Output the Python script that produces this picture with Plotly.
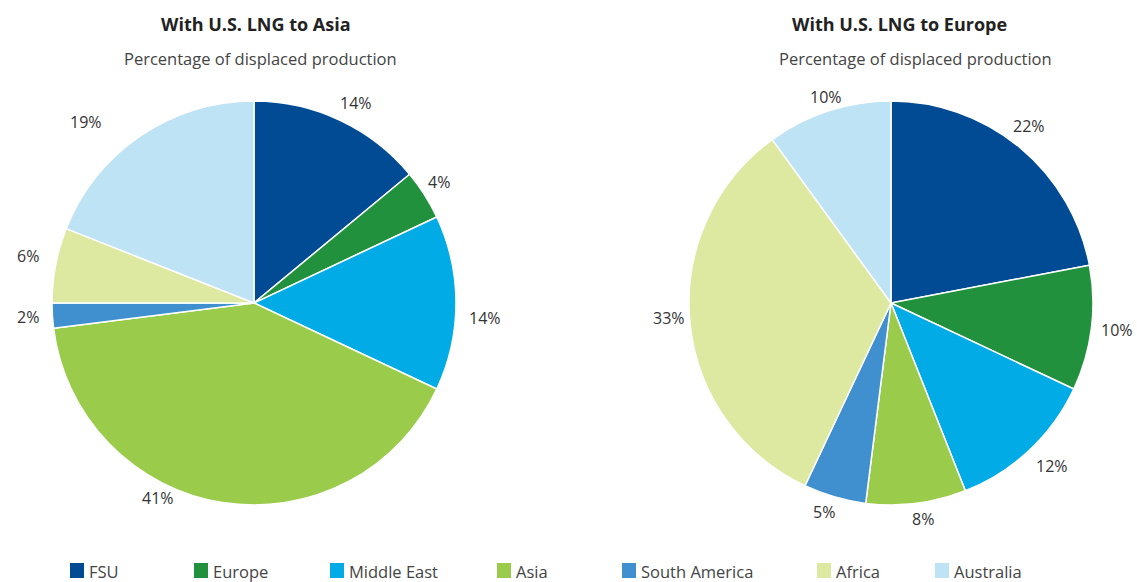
import math
import plotly.graph_objects as go

# ---- data ----
regions = ["FSU", "Europe", "Middle East", "Asia", "South America", "Africa", "Australia"]
asia_values = [14, 4, 14, 41, 2, 6, 19]
europe_values = [22, 10, 12, 8, 5, 33, 10]
panel_titles = ["With U.S. LNG to Asia", "With U.S. LNG to Europe"]
panel_subtitle = "Percentage of displaced production"

# ---- style ----
colors = ["#004B93", "#21913D", "#00ABE6", "#9BCB4A", "#4090CF", "#DDE8A0", "#BEE3F5"]
W, H = 1137, 582
FONT = "Open Sans"
TXT = "#333333"
R = 202                      # pie radius, px
centers = [(254, 303), (891, 303)]
title_x = [256, 900]
subtitle_x = [260, 915]
label_gap = 24
# per-label pixel nudges (dx, dy) mimicking the original label placement
label_nudges = [
    [(6, 4), (-6, 0), (5, 15), (-61, -28), (0, 0), (-4, -5), (-41, 6)],
    [(-6, -3), (2, -1), (6, -2), (4, -8), (-4, -8), (3, -6), (5, 9)],
]
legend_x = [70, 194, 330, 497, 622, 817, 935]
legend_y = 571

fig = go.Figure()
annotations = []
shapes = []

for i, ((cx, cy), vals, title, nudges) in enumerate(
        zip(centers, [asia_values, europe_values], panel_titles, label_nudges)):
    fig.add_trace(go.Pie(
        labels=regions, values=vals, sort=False, direction="clockwise", rotation=0,
        marker=dict(colors=colors, line=dict(color="white", width=1.5)),
        textinfo="none", hoverinfo="label+percent", showlegend=False,
        domain=dict(x=[(cx - R) / W, (cx + R) / W], y=[1 - (cy + R) / H, 1 - (cy - R) / H]),
    ))
    total = sum(vals)
    cum = 0
    for v, (ndx, ndy) in zip(vals, nudges):
        mid = (cum + v / 2) / total * 2 * math.pi
        cum += v
        rr = R + label_gap
        px = cx + rr * math.sin(mid) + ndx
        py = cy - rr * math.cos(mid) + ndy
        annotations.append(dict(
            x=px / W, y=1 - py / H, xref="paper", yref="paper", showarrow=False,
            text=f"{v}%", font=dict(family=FONT, size=16, color=TXT),
            xanchor="center", yanchor="middle"))
    annotations.append(dict(
        x=title_x[i] / W, y=1 - 24 / H, xref="paper", yref="paper", showarrow=False,
        text=f"<b>{title}</b>", font=dict(family=FONT, size=18, color="#222222"),
        xanchor="center", yanchor="middle"))
    annotations.append(dict(
        x=subtitle_x[i] / W, y=1 - 59 / H, xref="paper", yref="paper", showarrow=False,
        text=panel_subtitle, font=dict(family=FONT, size=16.5, color="#444444"),
        xanchor="center", yanchor="middle"))

# legend
for name, col, lx in zip(regions, colors, legend_x):
    shapes.append(dict(type="rect", xref="paper", yref="paper",
                       x0=lx / W, x1=(lx + 14) / W,
                       y0=1 - (legend_y + 7) / H, y1=1 - (legend_y - 8) / H,
                       fillcolor=col, line=dict(width=0)))
    annotations.append(dict(
        x=(lx + 17) / W, y=1 - legend_y / H, xref="paper", yref="paper", showarrow=False,
        text=name, font=dict(family=FONT, size=16.5, color="#444444"),
        xanchor="left", yanchor="middle"))

fig.update_layout(
    width=W, height=H, margin=dict(l=0, r=0, t=0, b=0),
    paper_bgcolor="white", plot_bgcolor="white",
    annotations=annotations, shapes=shapes, showlegend=False,
)
fig.write_html("out.html", config={"displayModeBar": False},
               post_script="document.body.style.margin='0';document.body.style.overflow='hidden';")
